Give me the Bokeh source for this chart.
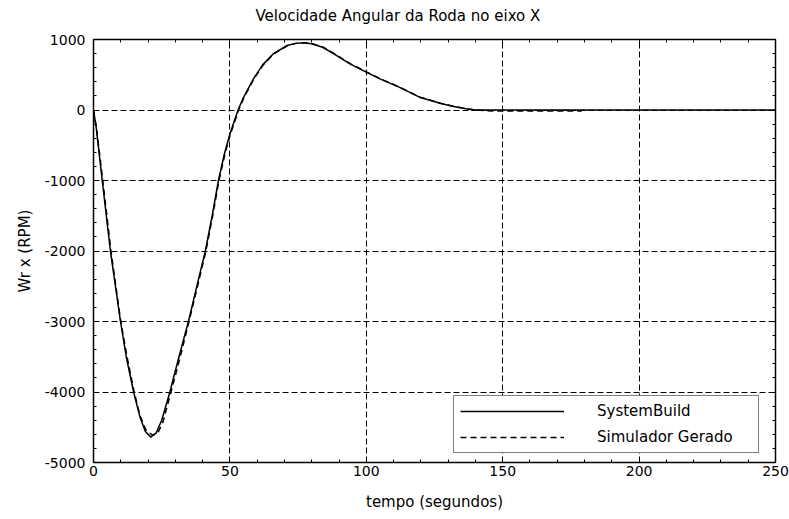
from bokeh.plotting import figure
from bokeh.models import (LinearAxis, Legend, LegendItem, SingleIntervalTicker,
                          Range1d, ColumnDataSource, NumeralTickFormatter,
                          CustomLabelingPolicy)
from bokeh.embed import file_html
from bokeh.resources import INLINE

# --- data ---
t_systembuild = [0, 1, 3.2, 6.2, 9.9, 12, 14.7, 17, 19, 21, 23, 25, 28, 31, 34.8, 38, 41,
                 43.5, 45.8, 48, 50, 53, 55, 58.6, 62, 66, 71, 74, 77, 80, 84, 88, 94, 100,
                 105, 112, 119.5, 127, 132, 136.6, 140, 150, 200, 250]
v_systembuild = [0, -250, -1000, -2000, -3000, -3500, -4000, -4350, -4560, -4640, -4580,
                 -4400, -4000, -3550, -3000, -2480, -2000, -1500, -1000, -620, -340, 0, 180,
                 440, 640, 800, 915, 945, 955, 940, 890, 800, 655, 537, 442, 324, 182, 97,
                 50, 17, 0, 0, 0, 0]

t_simulador = [0, 1, 3.4, 6.4, 10, 12.2, 14.8, 17, 19.2, 21.5, 23.5, 25.5, 28.4, 31.4, 35,
               38.2, 41.2, 43.7, 46, 48.2, 50.2, 53.2, 55.2, 58.8, 62.2, 66.2, 71.2, 74.2,
               77.2, 80.2, 84.2, 88.2, 94.2, 100.2, 105.2, 112.2, 119.7, 127.2, 132.2, 136.8,
               140, 146, 179]
v_simulador = [0, -230, -1000, -2000, -3000, -3480, -3980, -4330, -4540, -4610, -4590,
               -4420, -4000, -3560, -3000, -2490, -2000, -1500, -1000, -620, -340, 0, 180,
               440, 640, 800, 915, 945, 955, 940, 890, 800, 655, 537, 442, 324, 182, 97,
               50, 17, 0, -15, -15]

x_ticks_interval = 50
y_ticks_interval = 1000

FONT = "DejaVu Sans"

p = figure(frame_width=682, frame_height=423,
           min_border_left=93, min_border_right=14, min_border_top=39, min_border_bottom=56,
           x_range=Range1d(0, 250), y_range=Range1d(-5000, 1000),
           output_backend="svg", toolbar_location=None,
           background_fill_color="white", border_fill_color="white")

p.outline_line_color = "black"
p.outline_line_width = 1.5

# title
p.title.text = "Velocidade Angular da Roda no eixo X"
p.title.text_font = FONT
p.title.text_font_size = "15px"
p.title.text_font_style = "normal"
p.title.text_color = "black"
p.title.align = "left"
p.title.offset = 159
p.title.standoff = 2
p.title.padding = 3

xt = SingleIntervalTicker(interval=x_ticks_interval, num_minor_ticks=5)
yt = SingleIntervalTicker(interval=y_ticks_interval, num_minor_ticks=5)
p.xaxis.ticker = xt
p.yaxis.ticker = yt

for ax in (p.xaxis[0], p.yaxis[0]):
    ax.formatter = NumeralTickFormatter(format="0")
    ax.major_tick_in = 5
    ax.major_tick_out = 0
    ax.minor_tick_in = 3
    ax.minor_tick_out = 0
    ax.axis_line_color = "black"
    ax.major_tick_line_color = "black"
    ax.minor_tick_line_color = "black"
    ax.major_label_text_font = FONT
    ax.major_label_text_font_size = "14px"
    ax.major_label_text_color = "black"
    ax.axis_label_text_font = FONT
    ax.axis_label_text_font_size = "15px"
    ax.axis_label_text_font_style = "normal"
    ax.axis_label_text_color = "black"

p.xaxis.axis_label = "tempo (segundos)"
p.yaxis.axis_label = "Wr x (RPM)"
p.xaxis.major_label_standoff = 3
p.yaxis.major_label_standoff = 8
p.xaxis.axis_label_standoff = 14
p.yaxis.axis_label_standoff = 8

# top and right axes: ticks only, no labels
top = LinearAxis(ticker=SingleIntervalTicker(interval=x_ticks_interval, num_minor_ticks=5),
                 major_label_policy=CustomLabelingPolicy(code="return new Set()"))
right = LinearAxis(ticker=SingleIntervalTicker(interval=y_ticks_interval, num_minor_ticks=5),
                   major_label_policy=CustomLabelingPolicy(code="return new Set()"))
for ax in (top, right):
    ax.major_tick_in = 5
    ax.major_tick_out = 0
    ax.minor_tick_in = 3
    ax.minor_tick_out = 0
    ax.major_label_standoff = 0
    ax.axis_line_color = "black"
p.add_layout(top, "above")
p.add_layout(right, "right")

for g in (p.xgrid[0], p.ygrid[0]):
    g.grid_line_color = "black"
    g.grid_line_dash = "6 3"
    g.grid_line_width = 1

src_a = ColumnDataSource(dict(t=t_systembuild, v=v_systembuild))
src_b = ColumnDataSource(dict(t=t_simulador, v=v_simulador))
r1 = p.line("t", "v", source=src_a, line_color="black", line_width=1.5)
r2 = p.line("t", "v", source=src_b, line_color="black", line_width=1.5, line_dash="6 4")

legend = Legend(items=[LegendItem(label="SystemBuild", renderers=[r1]),
                       LegendItem(label="Simulador Gerado", renderers=[r2])],
                location=(360, 9))
legend.glyph_width = 104
legend.glyph_height = 18
legend.label_height = 18
legend.label_width = 155
legend.label_standoff = 33
legend.padding = 6
legend.spacing = 8
legend.margin = 0
legend.border_line_color = "black"
legend.border_line_width = 1
legend.background_fill_color = "white"
legend.background_fill_alpha = 1
legend.label_text_font = FONT
legend.label_text_font_size = "15px"
legend.label_text_color = "black"
p.add_layout(legend, "center")

open("out.html", "w").write(file_html(p, INLINE))
